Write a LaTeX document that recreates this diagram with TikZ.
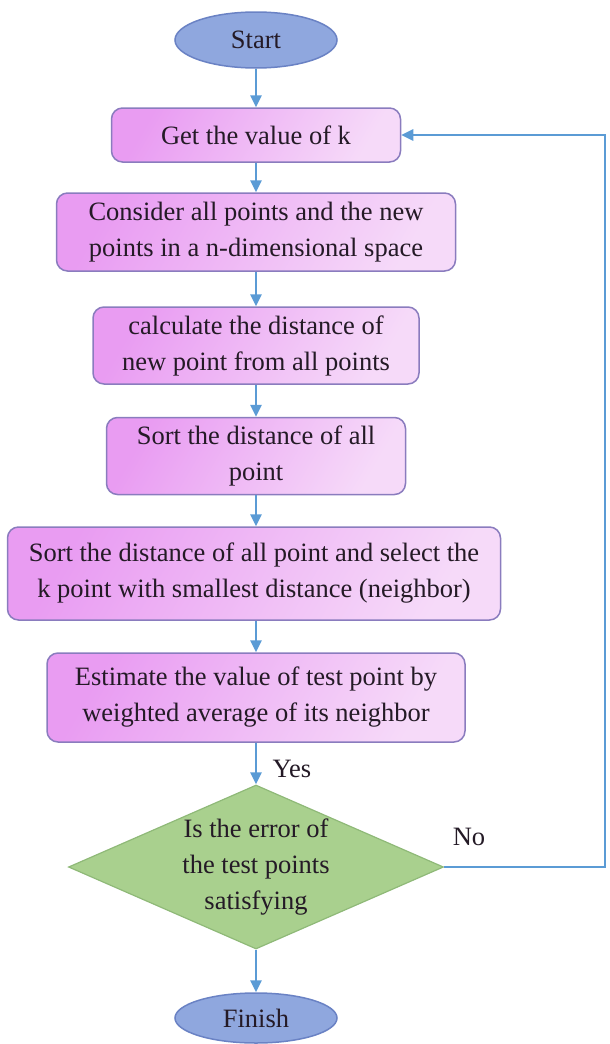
\documentclass[tikz,border=0pt]{standalone}
\usepackage{fontspec}
\newfontfamily\tnrfont{LiberationSerif}[Extension=.ttf, UprightFont=*-Regular]
\usetikzlibrary{shapes.geometric,arrows.meta}
\definecolor{boxA}{HTML}{E99CF2}
\definecolor{boxB}{HTML}{F6DAF9}
\definecolor{boxLine}{HTML}{8A7CBE}
\definecolor{ellFill}{HTML}{8FA7DE}
\definecolor{ellLine}{HTML}{6A82C4}
\definecolor{diaFill}{HTML}{A9D08E}
\definecolor{diaLine}{HTML}{8FB978}
\definecolor{arrowCol}{HTML}{5B9BD5}
\definecolor{txtCol}{HTML}{241A26}
\begin{document}
\begin{tikzpicture}[x=1pt,y=1pt,
  every node/.style={font=\tnrfont\fontsize{26.5}{36}\selectfont, text=txtCol, align=center, inner sep=0pt},
  procbox/.style={draw=boxLine, line width=1.5pt, rounded corners=11pt, left color=boxA, right color=boxB, shading angle=60},
  termin/.style={ellipse, draw=ellLine, line width=1.5pt, fill=ellFill, minimum width=162pt, minimum height=56pt},
  decide/.style={diamond, draw=diaLine, line width=1.2pt, fill=diaFill, minimum width=375pt, minimum height=164pt, aspect=2.29},
  flow/.style={draw=arrowCol, line width=2.5pt, -{Triangle[length=12pt,width=11pt]}},
  lbl/.style={text=txtCol}
]
\useasboundingbox (0,0) rectangle (610,-1044);
\node[termin] (start) at (256,-40) {Start};
\node[procbox, minimum width=289pt, minimum height=54pt] (b1) at (256,-135) {Get the value of k};
\node[procbox, minimum width=399pt, minimum height=78pt] (b2) at (256,-232) {Consider all points and the new\\points in a n-dimensional space};
\node[procbox, minimum width=326pt, minimum height=77pt] (b3) at (256,-345.5) {calculate the distance of\\new point from all points};
\node[procbox, minimum width=299pt, minimum height=77pt] (b4) at (256,-456) {Sort the distance of all\\point};
\node[procbox, minimum width=493pt, minimum height=93pt] (b5) at (254,-573.5) {Sort the distance of all point and select the\\k point with smallest distance (neighbor)};
\node[procbox, minimum width=418pt, minimum height=89pt] (b6) at (256,-697.5) {Estimate the value of test point by\\weighted average of its neighbor};
\node[decide] (d) at (256,-867) {Is the error of\\the test points\\satisfying};
\node[termin, minimum height=50pt] (finish) at (256,-1018) {Finish};
\node[lbl] (yes) at (292,-769) {Yes};
\node[lbl] (no) at (469,-837) {No};
\coordinate (r1) at (605,-867);
\coordinate (r2) at (605,-135);
\draw[flow] (start) -- (b1);
\draw[flow] (b1) -- (b2);
\draw[flow] (b2) -- (b3);
\draw[flow] (b3) -- (b4);
\draw[flow] (b4) -- (b5.north -| b4.south);
\draw[flow] (b5.south -| b6.north) -- (b6);
\draw[flow] (b6) -- (d);
\draw[flow] (d) -- (finish);
\draw[flow] (d.east) -- (r1) -- (r2) -- (b1.east);
\end{tikzpicture}
\end{document}
